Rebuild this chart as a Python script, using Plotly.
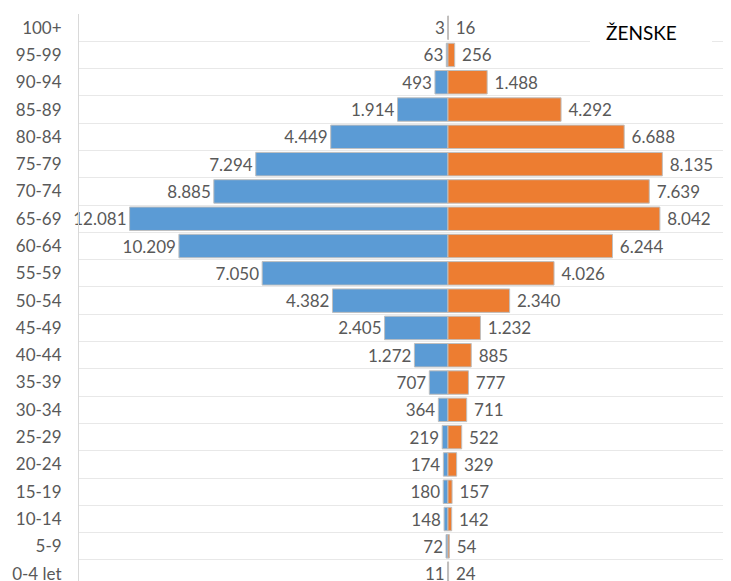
import plotly.graph_objects as go

# Age groups listed from youngest (bottom) to oldest (top)
age_groups = ["0-4 let", "5-9", "10-14", "15-19", "20-24", "25-29", "30-34", "35-39",
              "40-44", "45-49", "50-54", "55-59", "60-64", "65-69", "70-74", "75-79",
              "80-84", "85-89", "90-94", "95-99", "100+"]
moski = [11, 72, 148, 180, 174, 219, 364, 707, 1272, 2405, 4382, 7050, 10209,
         12081, 8885, 7294, 4449, 1914, 493, 63, 3]
zenske = [24, 54, 142, 157, 329, 522, 711, 777, 885, 1232, 2340, 4026, 6244,
          8042, 7639, 8135, 6688, 4292, 1488, 256, 16]


def fmt(v):
    return f"{v:,}".replace(",", ".")


FONT = "Lato"
LABEL_COLOR = "#595959"

fig = go.Figure()
fig.add_trace(go.Bar(
    y=age_groups, x=[-v for v in moski], orientation="h",
    marker=dict(color="#5B9BD5", line=dict(color="#BFBFBF", width=1)),
    text=[fmt(v) for v in moski], textposition="outside", cliponaxis=False,
    textfont=dict(family=FONT, size=17, color=LABEL_COLOR),
    name="Moški", hoverinfo="skip",
))
fig.add_trace(go.Bar(
    y=age_groups, x=zenske, orientation="h",
    marker=dict(color="#ED7D31", line=dict(color="#BFBFBF", width=1)),
    text=[" " + fmt(v) for v in zenske], textposition="outside", cliponaxis=False,
    textfont=dict(family=FONT, size=17, color=LABEL_COLOR),
    name="Ženske", hoverinfo="skip",
))

# The page body has an 8px margin, so the figure is sized to end at the window edge.
fig.update_layout(
    width=723, height=573,
    margin=dict(l=71, r=0, t=6, b=0, autoexpand=False),
    barmode="relative", bargap=0.14,
    plot_bgcolor="white", paper_bgcolor="white",
    showlegend=False,
    font=dict(family=FONT, size=17, color=LABEL_COLOR),
    xaxis=dict(range=[-14000, 10740], showticklabels=False, showgrid=False,
               zeroline=False, showline=False, fixedrange=True, automargin=False),
    yaxis=dict(type="category", categoryorder="array", categoryarray=age_groups,
               range=[-0.27, 20.5], tickson="boundaries", showgrid=True,
               gridcolor="#E8E8E8", gridwidth=1, ticks="", showline=True,
               linecolor="#D9D9D9", linewidth=1, ticklabelstandoff=13,
               automargin=False,
               tickfont=dict(family=FONT, size=17, color=LABEL_COLOR)),
    uniformtext=dict(mode=False),
)

# white box behind the title (covers the gridlines)
fig.add_shape(type="rect", xref="paper", yref="paper",
              x0=0.7837, x1=0.9709, y0=0.944, y1=1.008,
              fillcolor="white", line=dict(width=0), layer="above")

fig.add_annotation(
    xref="paper", yref="paper", x=0.8627, y=0.9665,
    text="ŽENSKE", showarrow=False, xanchor="center", yanchor="middle",
    font=dict(family=FONT, size=19, color="#000000"),
)

fig.write_html("out.html")
